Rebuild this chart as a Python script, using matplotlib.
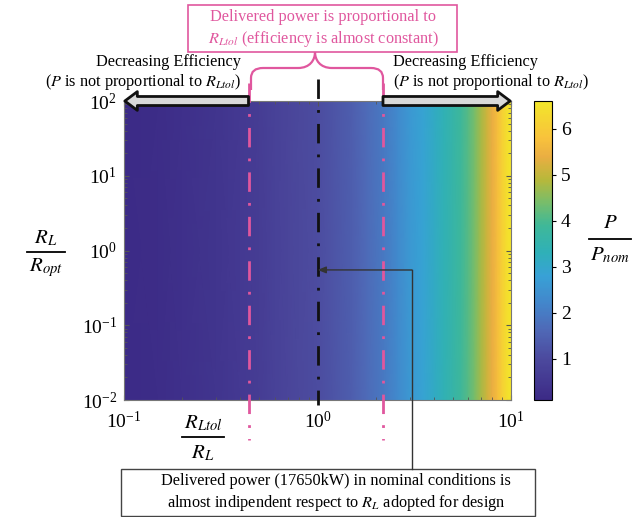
import numpy as np
import matplotlib
matplotlib.use("Agg")
import matplotlib.pyplot as plt
from matplotlib.colors import LinearSegmentedColormap
from matplotlib.patches import Rectangle, PathPatch
from matplotlib.path import Path
from matplotlib.lines import Line2D

# ---------------- data ----------------
x_ratio = [0.1, 0.15, 0.2, 0.3, 0.4, 0.5, 0.6, 0.7, 0.8, 1.0, 1.2, 1.5, 1.8, 2.2, 2.6,
           3.0, 3.5, 4.0, 4.5, 5.0, 5.5, 6.0, 6.5, 7.0, 7.5, 8.0, 8.5, 9.0, 9.5, 10.0]
p_ratio = [0.15, 0.2, 0.3, 0.42, 0.55, 0.65, 0.78, 0.88, 0.95, 1.05, 1.2, 1.4, 1.65, 1.95, 2.3,
           2.6, 2.85, 3.1, 3.35, 3.6, 3.85, 4.1, 4.4, 4.75, 5.1, 5.4, 5.7, 6.1, 6.4, 6.6]
y_ratio = [0.01, 100.0]
x_ticks = [0.1, 1, 10]
y_ticks = [0.01, 0.1, 1, 10, 100]
cbar_ticks = [1, 2, 3, 4, 5, 6]
c_min, c_max = 0.1, 6.6
x_band = [0.44, 2.18]      # pink tolerance lines
x_nominal = 1.0            # black line
nominal_point = (1.0, 0.55)

# ---------------- style ----------------
plt.rcParams['font.family'] = ['Liberation Serif', 'DejaVu Serif']
plt.rcParams['mathtext.fontset'] = 'stix'
PINK = '#e0579e'
TXT = 11.7

W, H = 637, 517
fig = plt.figure(figsize=(W / 100, H / 100), dpi=100)

def fx(x):
    return x / W

def fy(y):
    return 1 - y / H

def P(x, y):
    return (fx(x), fy(y))

ax = fig.add_axes([fx(124), fy(400), (511 - 124) / W, (400 - 101) / H])
cax = fig.add_axes([fx(534), fy(400), (552 - 534) / W, (400 - 101) / H])

stops = [(0.1, '#3c2a86'), (1.0, '#4c4a9e'), (1.6, '#4f68b6'), (2.2, '#4386cb'),
         (2.8, '#38a1d6'), (3.3, '#2fb0b8'), (3.9, '#3fb898'), (4.4, '#78bd6a'),
         (4.9, '#b8b83a'), (5.4, '#eaae42'), (5.8, '#f8c23c'), (6.6, '#f3e62a')]
cmap = LinearSegmentedColormap.from_list(
    'parula_like', [((v - c_min) / (c_max - c_min), c) for v, c in stops])

Z = np.tile(np.array(p_ratio), (len(y_ratio), 1))
mesh = ax.pcolormesh(np.array(x_ratio), np.array(y_ratio), Z, cmap=cmap,
                     vmin=c_min, vmax=c_max, shading='gouraud')
ax.set_xscale('log')
ax.set_yscale('log')
ax.set_xlim(x_ratio[0], x_ratio[-1])
ax.set_ylim(y_ratio[0], y_ratio[-1])
ax.set_xticks(x_ticks)
ax.set_yticks(y_ticks)
ax.tick_params(which='both', direction='in', top=True, right=True, color='#555555',
               labelsize=14)
ax.tick_params(axis='x', pad=8)
ax.tick_params(axis='y', pad=5)
for s in ax.spines.values():
    s.set_color('#777777')
    s.set_linewidth(0.8)

cb = fig.colorbar(mesh, cax=cax, ticks=cbar_ticks)
cb.ax.tick_params(labelsize=14, length=3, direction='out')
cb.outline.set_linewidth(0.8)

# ---------------- vertical dash-dot lines ----------------
for xv in x_band:
    ax.plot([xv, xv], [1.06, -0.135], transform=ax.get_xaxis_transform(),
            color=PINK, lw=2, dashes=(7, 4, 1, 4), clip_on=False, zorder=5)
ax.plot([x_nominal, x_nominal], [1.075, -0.018], transform=ax.get_xaxis_transform(),
        color='#111111', lw=2, dashes=(7, 4, 1, 4), clip_on=False, zorder=5)

# ---------------- big gray arrows ----------------
arrow_kw = dict(arrowstyle='simple,head_length=0.9,head_width=1.35,tail_width=0.65',
                fc='#d9d9d9', ec='#111111', lw=2, shrinkA=0, shrinkB=0,
                mutation_scale=10)
ax.annotate('', xy=(x_ratio[0] * 1.01, 1.0), xytext=(x_band[0], 1.0),
            xycoords=('data', 'axes fraction'), textcoords=('data', 'axes fraction'),
            arrowprops=arrow_kw, annotation_clip=False, zorder=6)
ax.annotate('', xy=(x_ratio[-1] * 0.99, 1.0), xytext=(x_band[1], 1.0),
            xycoords=('data', 'axes fraction'), textcoords=('data', 'axes fraction'),
            arrowprops=arrow_kw, annotation_clip=False, zorder=6)

fig.text(fx(241), fy(73), 'Decreasing Efficiency\n($P$ is not proportional to $R_{Ltol}$)',
         ha='right', va='center', fontsize=TXT, linespacing=1.2)
fig.text(fx(393), fy(73), 'Decreasing Efficiency\n($P$ is not proportional to $R_{Ltol}$)',
         ha='left', va='center', fontsize=TXT, linespacing=1.2)

# ---------------- pink brace and box ----------------
verts = [P(251, 90), P(251, 78), P(251, 68), P(263, 68), P(298, 68),
         P(310, 68), P(315, 60), P(315, 52),
         P(315, 60), P(320, 68), P(332, 68), P(371, 68),
         P(383, 68), P(383, 78), P(383, 90)]
codes = [Path.MOVETO, Path.LINETO, Path.CURVE3, Path.CURVE3, Path.LINETO,
         Path.CURVE4, Path.CURVE4, Path.CURVE4,
         Path.CURVE4, Path.CURVE4, Path.CURVE4, Path.LINETO,
         Path.CURVE3, Path.CURVE3, Path.LINETO]
fig.add_artist(PathPatch(Path(verts, codes), fc='none', ec=PINK, lw=1.6,
                         transform=fig.transFigure))
fig.add_artist(Rectangle(P(188, 52), (457 - 188) / W, (52 - 5) / H, fc='white',
                         ec=PINK, lw=1.2, transform=fig.transFigure))
fig.text(fx(323), fy(29), 'Delivered power is proportional to\n$R_{Ltol}$ (efficiency is almost constant)',
         ha='center', va='center', fontsize=TXT, color=PINK, linespacing=1.25)

# ---------------- bottom annotation ----------------
fig.add_artist(Rectangle(P(121, 516), (535 - 121) / W, (516 - 469) / H, fc='white',
                         ec='#444444', lw=1.0, transform=fig.transFigure))
fig.text(fx(336), fy(493), 'Delivered power (17650kW) in nominal conditions is\n'
         'almost indipendent respect to $R_L$ adopted for design',
         ha='center', va='center', fontsize=TXT, linespacing=1.35)
fig.add_artist(Line2D([fx(412), fx(412)], [fy(469), fy(270)], color='#333333', lw=1,
                      transform=fig.transFigure))
ax.annotate('', xy=nominal_point, xytext=(412, H - 270), textcoords='figure pixels',
            arrowprops=dict(arrowstyle='-|>,head_length=0.5,head_width=0.2',
                            color='#333333', lw=1, shrinkA=0, shrinkB=0),
            annotation_clip=False, zorder=7)

# ---------------- fraction labels ----------------
def frac(xc, ytop, ybar, ybot, half, num, den, size=15):
    fig.text(fx(xc), fy(ytop), num, ha='center', va='center', fontsize=size)
    fig.add_artist(Line2D([fx(xc - half), fx(xc + half)], [fy(ybar), fy(ybar)],
                          color='black', lw=1.3, transform=fig.transFigure))
    fig.text(fx(xc), fy(ybot), den, ha='center', va='center', fontsize=size)

frac(46, 238, 252, 268, 19, '$R_L$', '$R_{opt}$')
frac(203, 423, 437, 453, 21, '$R_{Ltol}$', '$R_L$')
frac(610, 223, 239, 255, 21, '$P$', '$P_{nom}$')

fig.savefig('out.png', dpi=100)
